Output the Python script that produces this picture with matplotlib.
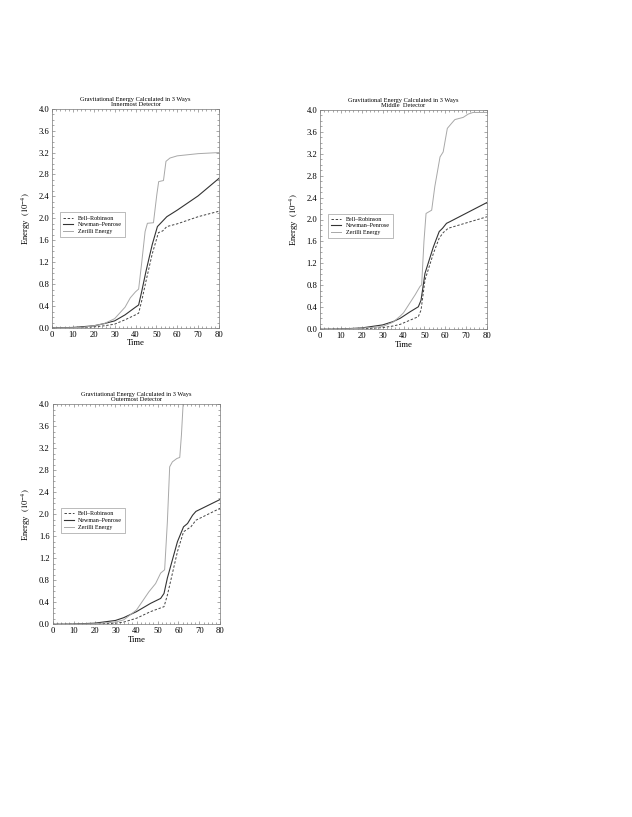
import matplotlib
matplotlib.use("Agg")
import matplotlib.pyplot as plt
from matplotlib.ticker import MultipleLocator

plt.rcParams['font.family'] = ['Liberation Serif', 'DejaVu Serif']
plt.rcParams['mathtext.fontset'] = 'stix'

# ---- data: Innermost detector ----
in_z_t = [0, 10, 15, 20, 25, 30, 35, 37.5, 40, 41.5, 43, 44.6, 45.7, 48.6, 50.2, 51.1, 53.4, 54.6, 56.5, 60, 70, 80]
in_z_e = [0, 0.005, 0.015, 0.04, 0.08, 0.17, 0.38, 0.55, 0.66, 0.71, 1.2, 1.76, 1.91, 1.92, 2.43, 2.67, 2.69, 3.04, 3.10, 3.14, 3.18, 3.20]
in_np_t = [0, 10, 20, 25, 30, 35, 40, 41.5, 43, 45, 48, 50.5, 52, 55, 60, 70, 80]
in_np_e = [0, 0.01, 0.04, 0.08, 0.13, 0.24, 0.38, 0.42, 0.67, 1.03, 1.52, 1.85, 1.91, 2.03, 2.15, 2.41, 2.73]
in_br_t = [0, 10, 20, 25, 30, 35, 40, 41.5, 43, 45, 48, 51, 53, 55, 60, 70, 80]
in_br_e = [0, 0.003, 0.02, 0.04, 0.07, 0.15, 0.24, 0.27, 0.5, 0.85, 1.35, 1.74, 1.77, 1.85, 1.9, 2.03, 2.13]

# ---- data: Middle detector ----
mid_z_t = [0, 10, 20, 30, 35, 38.4, 40, 45.6, 47.9, 48.7, 49.8, 50.8, 53.5, 55, 57.5, 59, 61, 63, 64.6, 68.6, 71, 73.3, 80]
mid_z_e = [0, 0.003, 0.02, 0.05, 0.13, 0.24, 0.3, 0.63, 0.78, 0.81, 1.6, 2.11, 2.17, 2.6, 3.14, 3.23, 3.66, 3.75, 3.82, 3.86, 3.92, 3.95, 3.95]
mid_np_t = [0, 10, 20, 30, 35, 38.4, 43.2, 47.1, 48.4, 50.3, 54.3, 57.1, 58.7, 60.6, 62.2, 80]
mid_np_e = [0, 0.005, 0.025, 0.08, 0.14, 0.2, 0.32, 0.41, 0.53, 1.02, 1.5, 1.78, 1.84, 1.93, 1.96, 2.31]
mid_br_t = [0, 10, 20, 30, 35, 38.4, 47.1, 48.4, 50.3, 54.3, 57.1, 59, 61.4, 80]
mid_br_e = [0, 0.002, 0.01, 0.03, 0.06, 0.09, 0.23, 0.35, 0.9, 1.38, 1.66, 1.76, 1.84, 2.05]

# ---- data: Outermost detector ----
out_z_t = [0, 10, 20, 30, 33.9, 40, 45.9, 49.1, 51.5, 53.4, 54.7, 55.8, 57.1, 59.2, 60.6, 61.4, 62.2, 62.6]
out_z_e = [0, 0.003, 0.01, 0.04, 0.08, 0.26, 0.59, 0.74, 0.93, 0.99, 1.86, 2.86, 2.95, 3.01, 3.03, 3.44, 4.0, 4.3]
out_np_t = [0, 10, 20, 30, 33.9, 40, 46.7, 51.5, 53.1, 54.7, 59.5, 62.4, 64.3, 66.7, 68.3, 80]
out_np_e = [0, 0.005, 0.02, 0.07, 0.12, 0.23, 0.38, 0.47, 0.56, 0.84, 1.5, 1.77, 1.83, 1.98, 2.05, 2.27]
out_br_t = [0, 10, 20, 30, 33.9, 40, 46.7, 53.1, 54.7, 59.5, 62.4, 65.9, 68.3, 80]
out_br_e = [0, 0.002, 0.01, 0.02, 0.04, 0.11, 0.23, 0.32, 0.53, 1.32, 1.68, 1.77, 1.89, 2.11]

series_labels = ["Bell\u2013Robinson", "Newman\u2013Penrose", "Zerilli Energy"]
titles = ["Innermost Detector", "Middle  Detector", "Outermost Detector"]
main_title = "Gravitational Energy Calculated in 3 Ways"
xticks = [0, 10, 20, 30, 40, 50, 60, 70, 80]
yticks = [0.0, 0.4, 0.8, 1.2, 1.6, 2.0, 2.4, 2.8, 3.2, 3.6, 4.0]

panels = [
    (in_br_t, in_br_e, in_np_t, in_np_e, in_z_t, in_z_e),
    (mid_br_t, mid_br_e, mid_np_t, mid_np_e, mid_z_t, mid_z_e),
    (out_br_t, out_br_e, out_np_t, out_np_e, out_z_t, out_z_e),
]

W, H = 632, 817
fig = plt.figure(figsize=(W / 100, H / 100), dpi=100)
boxes = [(52, 108.7, 167, 219.3), (320, 109.7, 167, 219.6), (52.5, 404, 168, 220.3)]

for (x0, y0, w, h), data, sub in zip(boxes, panels, titles):
    ax = fig.add_axes([x0 / W, 1 - (y0 + h) / H, w / W, h / H])
    brt, bre, npt, npe, zt, ze = data
    ax.plot(brt, bre, ls=(0, (2.5, 1.8)), color="#444444", lw=0.7, label=series_labels[0])
    ax.plot(npt, npe, ls="-", color="#333333", lw=0.8, label=series_labels[1])
    ax.plot(zt, ze, ls="-", color="#a8a8a8", lw=0.7, label=series_labels[2])
    ax.set_xlim(0, 80)
    ax.set_ylim(0, 4.0)
    ax.set_xticks(xticks)
    ax.set_yticks(yticks)
    ax.set_yticklabels([f"{v:.1f}" for v in yticks])
    ax.xaxis.set_minor_locator(MultipleLocator(2))
    ax.yaxis.set_minor_locator(MultipleLocator(0.1))
    ax.tick_params(which="both", direction="in", top=True, right=True, width=0.4, color="#666666")
    ax.tick_params(which="major", length=2.5, labelsize=6.2, pad=2)
    ax.tick_params(which="minor", length=1.2)
    for s in ax.spines.values():
        s.set_linewidth(0.5)
        s.set_color("#777777")
    ax.set_xlabel("Time", fontsize=6.2, labelpad=0.5)
    ax.set_ylabel(r"Energy  $(10^{-4})$", fontsize=6.2)
    ax.yaxis.set_label_coords(-0.115, 0.5)
    ax.set_title(main_title + "\n" + sub, fontsize=4.6, pad=2, linespacing=1.0)
    leg = ax.legend(loc="upper left", bbox_to_anchor=(0.05, 0.527), fontsize=4.3,
                    frameon=True, fancybox=False, edgecolor="#888888", framealpha=1,
                    handlelength=1.7, borderpad=0.5, labelspacing=0.25, handletextpad=0.7,
                    borderaxespad=0)
    leg.get_frame().set_linewidth(0.4)

fig.savefig("out.png", dpi=100)
